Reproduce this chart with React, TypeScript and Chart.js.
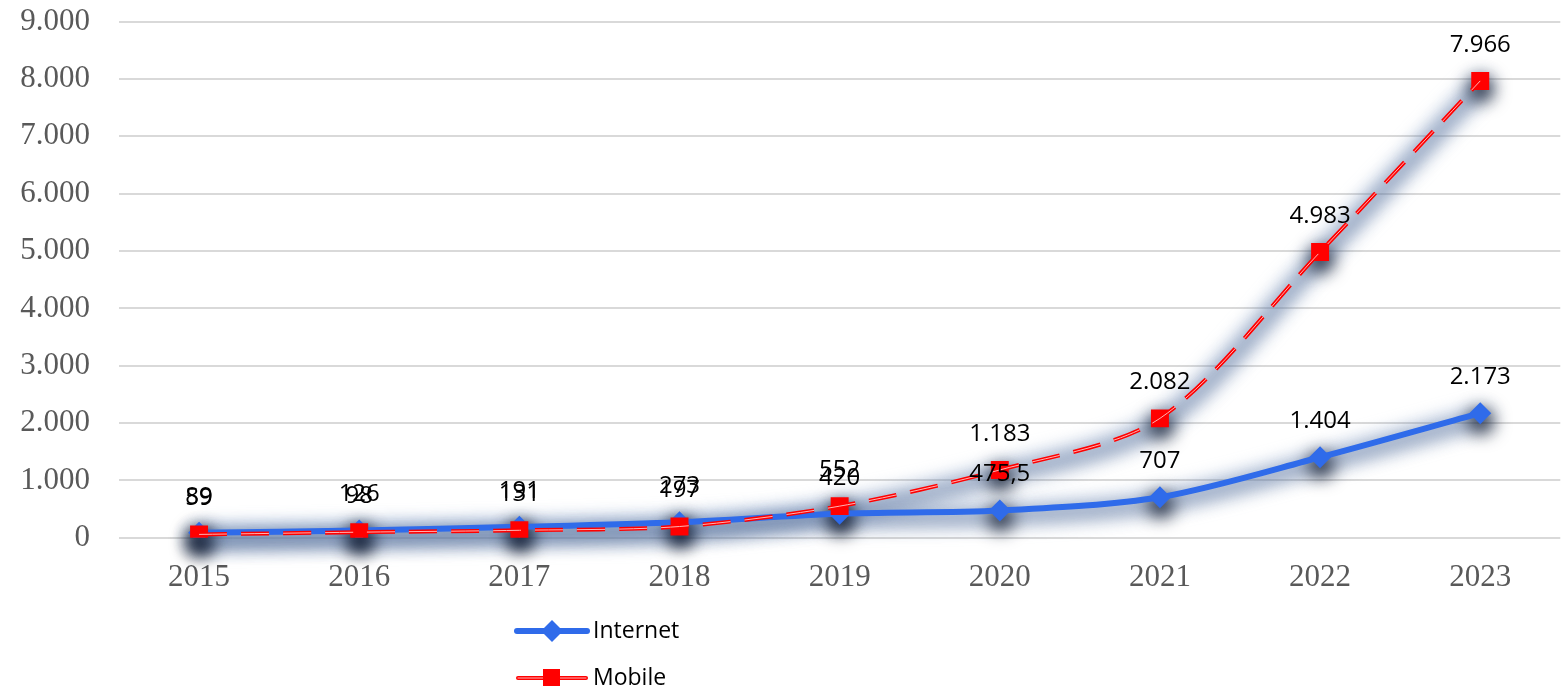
import React, { useEffect, useRef } from "react";
import { Chart, registerables } from "chart.js";

Chart.register(...registerables);

const years = ["2015", "2016", "2017", "2018", "2019", "2020", "2021", "2022", "2023"];
const internet = [89, 126, 191, 273, 420, 475.5, 707, 1404, 2173];
const mobile = [59, 98, 131, 197, 552, 1183, 2082, 4983, 7966];
const seriesNames = ["Internet", "Mobile"];
const yMin = 0;
const yMax = 9000;
const yStep = 1000;

const BLUE = "#2F6BEA";
const RED = "#FF0000";
const SHIFT = 26;
const DASH = [28, 14];

function fmt(v: number): string {
  const neg = v < 0;
  const a = Math.abs(v);
  const intPart = Math.floor(a);
  const dec = a - intPart;
  let s = String(intPart).replace(/\B(?=(\d{3})+(?!\d))/g, ".");
  if (dec > 1e-9) {
    const d = String(Math.round(dec * 10));
    s += "," + d;
  }
  return (neg ? "-" : "") + s;
}

function tracePath(ctx: any, pts: any[], dy: number) {
  ctx.beginPath();
  pts.forEach((p: any, i: number) => {
    if (i === 0) {
      ctx.moveTo(p.x, p.y + dy);
    } else {
      const q = pts[i - 1];
      ctx.bezierCurveTo(q.cp2x, q.cp2y + dy, p.cp1x, p.cp1y + dy, p.x, p.y + dy);
    }
  });
}

const glowPlugin = {
  id: "glowPlugin",
  beforeDatasetsDraw(chart: any) {
    const ctx = chart.ctx;
    [0, 1].forEach((di) => {
      const pts = chart.getDatasetMeta(di).data;
      ctx.save();
      ctx.filter = "blur(9px)";
      ctx.lineCap = "round";
      ctx.lineJoin = "round";
      ctx.strokeStyle = "rgba(120,150,195,0.55)";
      ctx.lineWidth = 20;
      tracePath(ctx, pts, 4);
      ctx.stroke();
      ctx.strokeStyle = "rgba(40,60,95,0.45)";
      ctx.lineWidth = 8;
      tracePath(ctx, pts, 7);
      ctx.stroke();
      ctx.fillStyle = "rgba(5,15,35,0.9)";
      pts.forEach((p: any) => {
        ctx.beginPath();
        ctx.arc(p.x + 1, p.y + 8, 12, 0, Math.PI * 2);
        ctx.fill();
      });
      ctx.restore();
    });
  },
};

const labelPlugin = {
  id: "labelPlugin",
  afterDatasetsDraw(chart: any) {
    const ctx = chart.ctx;
    ctx.save();
    ctx.font = "24px 'Open Sans', 'Noto Sans', sans-serif";
    ctx.fillStyle = "#000";
    ctx.textAlign = "center";
    ctx.textBaseline = "middle";
    [0, 1].forEach((di) => {
      const meta = chart.getDatasetMeta(di);
      const data = chart.data.datasets[di].data as number[];
      meta.data.forEach((pt: any, i: number) => {
        ctx.fillText(fmt(data[i]), pt.x, pt.y - 36);
      });
    });
    ctx.restore();
  },
};

const legendPlugin = {
  id: "customLegend",
  afterDraw(chart: any) {
    const ctx = chart.ctx;
    ctx.save();
    const x0 = 517;
    const rows = [631 + SHIFT, 678 + SHIFT];
    ctx.font = "23px 'Open Sans', 'Noto Sans', sans-serif";
    ctx.textBaseline = "middle";
    ctx.textAlign = "left";
    // Internet
    let y = rows[0];
    ctx.strokeStyle = BLUE;
    ctx.lineWidth = 6;
    ctx.lineCap = "round";
    ctx.beginPath();
    ctx.moveTo(x0, y);
    ctx.lineTo(x0 + 70, y);
    ctx.stroke();
    ctx.fillStyle = BLUE;
    ctx.beginPath();
    ctx.moveTo(x0 + 35, y - 11);
    ctx.lineTo(x0 + 46, y);
    ctx.lineTo(x0 + 35, y + 11);
    ctx.lineTo(x0 + 24, y);
    ctx.closePath();
    ctx.fill();
    ctx.fillStyle = "#000";
    ctx.fillText(seriesNames[0], x0 + 76, y);
    // Mobile
    y = rows[1];
    ctx.strokeStyle = RED;
    ctx.lineWidth = 4;
    ctx.beginPath();
    ctx.moveTo(x0 + 1, y);
    ctx.lineTo(x0 + 69, y);
    ctx.stroke();
    ctx.strokeStyle = "#ffb3b3";
    ctx.lineWidth = 1;
    ctx.beginPath();
    ctx.moveTo(x0 + 1, y);
    ctx.lineTo(x0 + 69, y);
    ctx.stroke();
    ctx.fillStyle = RED;
    ctx.fillRect(x0 + 26, y - 9, 17, 17);
    ctx.fillStyle = "#000";
    ctx.fillText(seriesNames[1], x0 + 76, y);
    ctx.restore();
  },
};

export default function App() {
  const ref = useRef<HTMLCanvasElement | null>(null);
  useEffect(() => {
    if (!ref.current) return;
    const chart = new Chart(ref.current, {
      type: "line",
      data: {
        labels: years,
        datasets: [
          {
            label: seriesNames[0],
            data: internet,
            borderColor: BLUE,
            backgroundColor: BLUE,
            borderWidth: 6,
            tension: 0.3,
            pointStyle: "rectRot",
            pointRadius: 11,
            pointBorderWidth: 0,
            order: 2,
          },
          {
            label: seriesNames[1],
            data: mobile,
            borderColor: RED,
            backgroundColor: RED,
            borderWidth: 4,
            borderDash: DASH,
            tension: 0.3,
            pointStyle: "rect",
            pointRadius: 12.7,
            pointBorderWidth: 0,
            order: 1,
          },
          {
            label: "mobile-inner",
            data: mobile,
            borderColor: "#ffb3b3",
            borderWidth: 1,
            borderDash: DASH,
            tension: 0.3,
            pointRadius: 0,
            order: 0,
          },
        ],
      },
      options: {
        animation: false,
        responsive: false,
        maintainAspectRatio: false,
        layout: { padding: { top: -3, bottom: 73, right: 0, left: 0 } },
        plugins: {
          legend: { display: false },
          tooltip: { enabled: false },
        },
        scales: {
          x: {
            offset: true,
            grid: { display: false, drawTicks: false },
            border: { display: false },
            ticks: {
              color: "#595959",
              font: { family: "'Liberation Serif', 'Times New Roman', serif", size: 31 },
              padding: 21,
            },
          },
          y: {
            min: yMin,
            max: yMax,
            afterFit(scale: any) {
              scale.width = 119;
            },
            grid: { color: "#d9d9d9", lineWidth: 2, drawTicks: false },
            border: { display: false },
            ticks: {
              stepSize: yStep,
              color: "#595959",
              font: { family: "'Liberation Serif', 'Times New Roman', serif", size: 31 },
              padding: 29,
              callback: (v: any) => fmt(Number(v)),
            },
          },
        },
      },
      plugins: [glowPlugin, labelPlugin, legendPlugin],
    });
    return () => chart.destroy();
  }, []);
  return (
    <div style={{ position: "fixed", left: 0, top: 0, width: 1567, height: 690, overflow: "hidden", background: "#fff" }}>
      <canvas
        ref={ref}
        width={1573}
        height={690 + SHIFT}
        style={{ width: 1573, height: 690 + SHIFT, display: "block", position: "absolute", left: 0, top: -SHIFT }}
      />
    </div>
  );
}
